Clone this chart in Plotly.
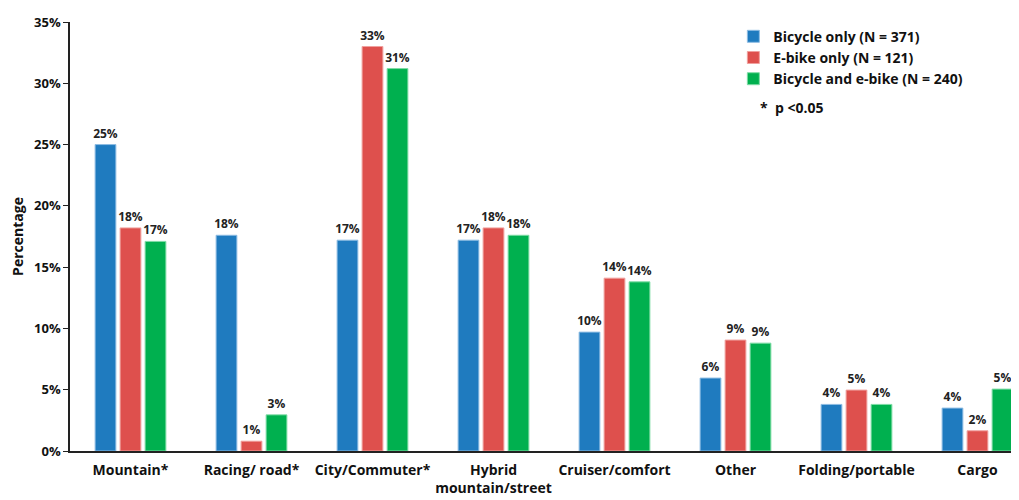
import plotly.graph_objects as go

categories = ["Mountain*", "Racing/ road*", "City/Commuter*", "Hybrid<br>mountain/street",
              "Cruiser/comfort", "Other", "Folding/portable", "Cargo"]
bicycle_only = [25.0, 17.6, 17.2, 17.2, 9.7, 5.95, 3.8, 3.5]
ebike_only = [18.2, 0.8, 33.0, 18.2, 14.1, 9.05, 4.97, 1.65]
both = [17.1, 2.95, 31.2, 17.6, 13.8, 8.8, 3.8, 5.05]
series_names = ["Bicycle only (N = 371)", "E-bike only (N = 121)", "Bicycle and e-bike (N = 240)"]
colors = ["#1F7BBF", "#DE504D", "#00B04F"]
borders = ["#8DBCE3", "#F0A09E", "#7FDCA6"]
tick_vals = [0, 5, 10, 15, 20, 25, 30, 35]
tick_text = ["0%", "5%", "10%", "15%", "20%", "25%", "30%", "35%"]

font_family = "Open Sans, Liberation Sans, sans-serif"

fig = go.Figure()
for name, vals, c, b in zip(series_names, [bicycle_only, ebike_only, both], colors, borders):
    fig.add_trace(go.Bar(
        x=categories, y=vals, name=name,
        marker=dict(color=c, line=dict(color=b, width=1)),
        texttemplate="%{y:.0f}%", textposition="outside", cliponaxis=False,
        textfont=dict(family=font_family, size=12, color="#222222", weight="bold"),
    ))

fig.update_layout(
    width=1011, height=492,
    paper_bgcolor="white", plot_bgcolor="white",
    margin=dict(l=62, r=0, t=14, b=49, autoexpand=False),
    barmode="group", bargap=0.38, bargroupgap=0.17,
    uniformtext=dict(minsize=12, mode="show"),
    font=dict(family=font_family, color="#111111"),
    showlegend=True,
    legend=dict(x=0.699, y=1.003, xanchor="left", yanchor="top",
                font=dict(size=14, weight="bold", color="#111111"),
                itemwidth=30, tracegroupgap=0, bgcolor="rgba(0,0,0,0)"),
    xaxis=dict(range=[-0.5, 7.343], showline=True, linecolor="#222222", linewidth=1.5,
               ticks="", ticklabelstandoff=5,
               tickfont=dict(size=14, weight="bold", color="#111111")),
    yaxis=dict(range=[0, 35], tickvals=tick_vals, ticktext=tick_text,
               showline=True, linecolor="#222222", linewidth=1.5, ticks="outside",
               ticklen=5, tickcolor="#222222", showgrid=False, zeroline=False,
               tickfont=dict(size=13, weight="bold", color="#111111"),
               title=dict(text="Percentage", standoff=8,
                          font=dict(size=14, weight="bold", color="#111111"))),
    annotations=[dict(text="*\u00a0\u00a0p\u00a0<0.05", x=0.7248, y=0.80, xref="paper", yref="paper",
                      xanchor="left", yanchor="middle", showarrow=False,
                      font=dict(size=14, weight="bold", color="#111111"))],
)

fig.write_html("out.html")
